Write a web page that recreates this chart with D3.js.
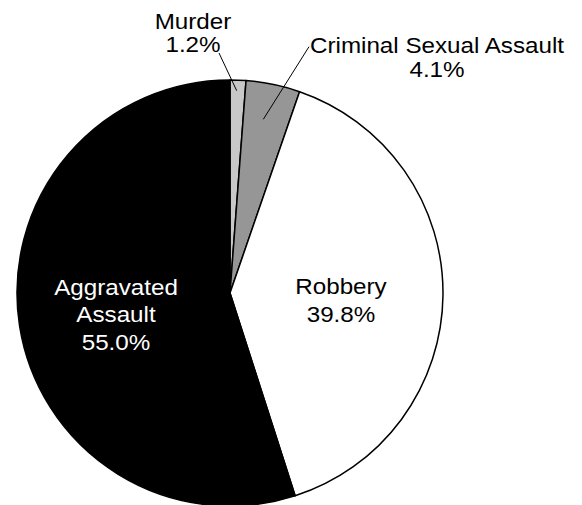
<!DOCTYPE html>
<html>
<head>
<meta charset="utf-8">
<script src="https://cdn.jsdelivr.net/npm/d3@7"></script>
<style>
  html, body { margin: 0; padding: 0; background: #fff; }
  svg { display: block; }
  text { font-family: "Liberation Sans", Arial, Helvetica, sans-serif; font-size: 22px; }
</style>
</head>
<body>
<svg id="chart" width="582" height="505"></svg>
<script>
// Share of violent crime by offence type (percent)
const categories = ["Murder", "Criminal Sexual Assault", "Robbery", "Aggravated Assault"];
const shares = [1.2, 4.1, 39.8, 55.0];
const fills = ["#c8c8c8", "#969696", "#ffffff", "#000000"];

const width = 582, height = 505;
const cx = 230, cy = 293, radius = 213;

const svg = d3.select("#chart");
const g = svg.append("g").attr("transform", `translate(${cx},${cy})`);

const data = categories.map((c, i) => ({ name: c, value: shares[i], fill: fills[i] }));

const pie = d3.pie().value(d => d.value).sort(null);
const arcs = pie(data);
const arc = d3.arc().innerRadius(0).outerRadius(radius);

g.selectAll("path.slice")
  .data(arcs)
  .join("path")
  .attr("class", "slice")
  .attr("d", arc)
  .attr("fill", d => d.data.fill)
  .attr("stroke", "#000")
  .attr("stroke-width", 1.5)
  .attr("stroke-linejoin", "round");

const fmt = v => v.toFixed(1) + "%";

// Label anchor (centre x, first baseline) and line spacing per slice
const labels = {
  "Murder": { x: -37, y: -263.7, lh: 22.4, lines: d => [d.name, fmt(d.value)],
              leader: [[-11, -240], [6.7, -202.3]] },
  "Criminal Sexual Assault": { x: 207, y: -239.7, lh: 24, lines: d => [d.name, fmt(d.value)],
              leader: [[79, -246.3], [33.3, -173.7]] },
  "Robbery": { x: 111, y: 1, lh: 28, lines: d => ["Robbery", fmt(d.value)] },
  "Aggravated Assault": { x: -114, y: 2, lh: 27.5, lines: d => ["Aggravated", "Assault", fmt(d.value)] }
};

arcs.forEach(d => {
  const cfg = labels[d.data.name];
  if (!cfg) return;
  if (cfg.leader) {
    g.append("line")
      .attr("x1", cfg.leader[0][0]).attr("y1", cfg.leader[0][1])
      .attr("x2", cfg.leader[1][0]).attr("y2", cfg.leader[1][1])
      .attr("stroke", "#000").attr("stroke-width", 1);
  }
  const t = g.append("text")
    .attr("text-anchor", "middle")
    .attr("transform", `translate(${cfg.x},${cfg.y}) scale(1.1,1)`)
    .attr("fill", d.data.fill === "#000000" ? "#fff" : "#000");
  cfg.lines(d.data).forEach((s, i) => {
    t.append("tspan").attr("x", 0).attr("y", i * cfg.lh).text(s);
  });
});
</script>
</body>
</html>
